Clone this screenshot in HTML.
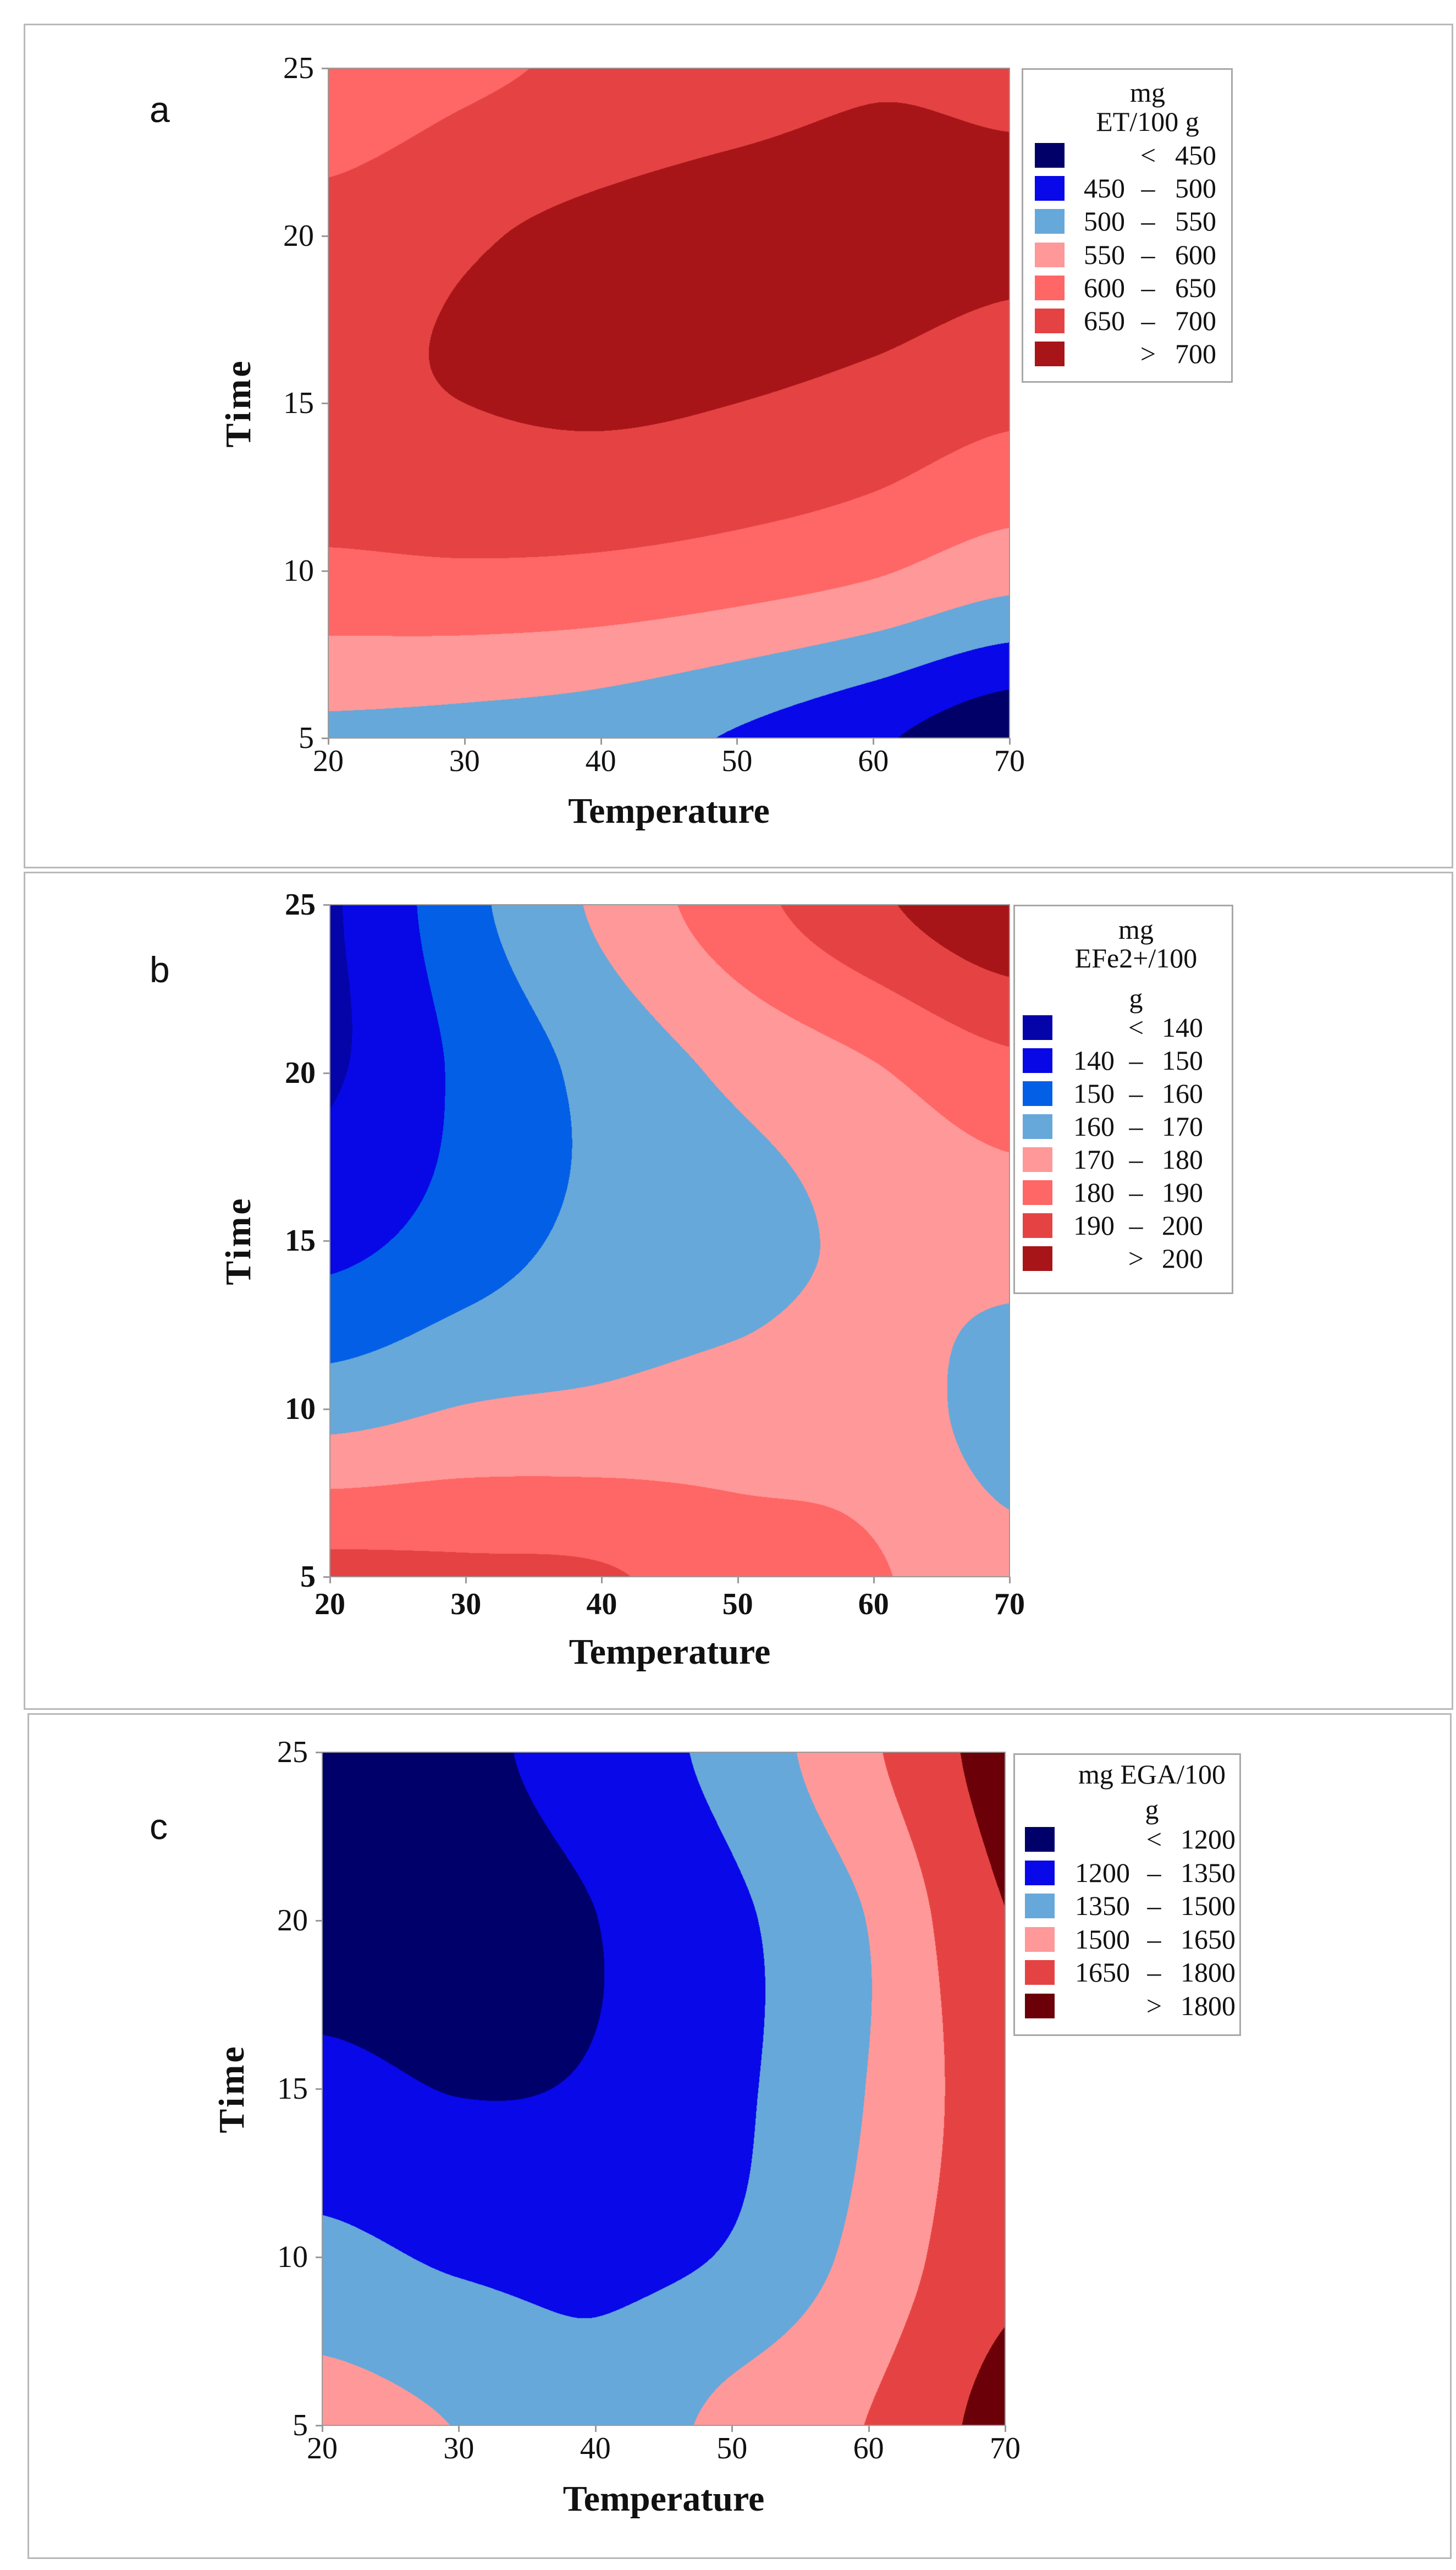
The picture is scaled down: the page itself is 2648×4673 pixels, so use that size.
<!DOCTYPE html>
<html><head><meta charset="utf-8">
<style>
html,body{margin:0;padding:0;background:#fff;}
#root{position:relative;width:2648px;height:4673px;overflow:hidden;background:#fff;font-family:"Liberation Serif",serif;color:#111;}
.frame{position:absolute;border:3px solid #b9b9b9;box-sizing:border-box;}
.plot{position:absolute;border:2px solid #9a9a9a;box-sizing:border-box;}
canvas{position:absolute;display:block;}
.t{position:absolute;white-space:pre;line-height:1;}
.panel-letter{font-family:"Liberation Sans",sans-serif;font-size:66px;}
.ytl{font-size:56px;transform:translate(-100%,-50%);}
.xtl{font-size:56px;transform:translate(-50%,-50%);}
.bold{font-weight:bold;}
.xt{font-size:66px;font-weight:bold;transform:translate(-50%,-50%);}
.yt{font-size:66px;font-weight:bold;transform:translate(-50%,-50%) rotate(-90deg);letter-spacing:4px;}
.legend{position:absolute;border:3px solid #a8a8a8;box-sizing:border-box;background:#fff;}
.lg{font-size:50px;}
.tick{position:absolute;background:#9a9a9a;}
</style></head>
<body>
<div id="root">
  <div class="frame" style="left:43px;top:43px;width:2600px;height:1536px"></div>
  <div class="frame" style="left:43px;top:1585px;width:2600px;height:1524px"></div>
  <div class="frame" style="left:50px;top:3115px;width:2590px;height:1538px"></div>

  <div class="t panel-letter" style="left:272px;top:166px">a</div>
  <div class="t panel-letter" style="left:272px;top:1730px">b</div>
  <div class="t panel-letter" style="left:272px;top:3288px">c</div>
</div>
<script>
// ---------- shared grid axes ----------
var gridTemps = [20, 30, 40, 50, 60, 70];
var gridTimes = [5, 10, 15, 20, 25];
var xTickLabels = ["20", "30", "40", "50", "60", "70"];
var yTickLabels = ["5", "10", "15", "20", "25"];

// ---------- panel a: mg ET/100 g (rows = time 5..25, cols = temp 20..70) ----------
var gridA = [
  [539, 533, 522, 495, 458, 414],
  [640, 644, 640, 627, 606, 571],
  [688, 700, 707, 700, 685, 662],
  [668, 694, 712, 722, 722, 712],
  [615, 640, 660, 678, 695, 690]
];
var levelsA = [450, 500, 550, 600, 650, 700];
var colorsA = ["#000068", "#0808e8", "#66a8da", "#ff9898", "#ff6666", "#e54343", "#a81518"];
var legendLabelsA = [["", "<", "450"], ["450", "–", "500"], ["500", "–", "550"], ["550", "–", "600"], ["600", "–", "650"], ["650", "–", "700"], ["", ">", "700"]];

// ---------- panel b: mg EFe2+/100 g ----------
var gridB = [
  [193, 192, 191, 185, 181, 173],
  [166, 170.5, 172, 174, 175, 166],
  [147, 155, 163, 166.5, 172, 174],
  [139, 152, 163, 172, 179, 187],
  [139, 157, 172, 186, 198, 208]
];
var levelsB = [140, 150, 160, 170, 180, 190, 200];
var colorsB = ["#0404a8", "#0808e6", "#035fe6", "#66a8da", "#ff9898", "#ff6666", "#e54343", "#a81518"];
var legendLabelsB = [["", "<", "140"], ["140", "–", "150"], ["150", "–", "160"], ["160", "–", "170"], ["170", "–", "180"], ["180", "–", "190"], ["190", "–", "200"], ["", ">", "200"]];

// ---------- panel c: mg EGA/100 g ----------
var gridC = [
  [1560, 1495, 1400, 1545, 1655, 1850],
  [1390, 1330, 1315, 1365, 1550, 1765],
  [1240, 1195, 1215, 1320, 1505, 1740],
  [1140, 1140, 1198, 1320, 1505, 1795],
  [1160, 1170, 1265, 1400, 1625, 1860]
];
var levelsC = [1200, 1350, 1500, 1650, 1800];
var colorsC = ["#00006b", "#0808e8", "#66a8da", "#ff9898", "#e54343", "#6b0008"];
var legendLabelsC = [["", "<", "1200"], ["1200", "–", "1350"], ["1350", "–", "1500"], ["1500", "–", "1650"], ["1650", "–", "1800"], ["", ">", "1800"]];

var root = document.getElementById('root');

function hex(c){return [parseInt(c.substr(1,2),16),parseInt(c.substr(3,2),16),parseInt(c.substr(5,2),16)];}
function cr(p0,p1,p2,p3,u){return 0.5*((2*p1)+(-p0+p2)*u+(2*p0-5*p1+4*p2-p3)*u*u+(-p0+3*p1-3*p2+p3)*u*u*u);}
function rowAt(row,fx){
  var n=row.length, i=Math.floor(fx); if(i<0)i=0; if(i>n-2)i=n-2; var u=fx-i;
  var g=function(k){k=Math.max(0,Math.min(n-1,k));return row[k];};
  return cr(g(i-1),g(i),g(i+1),g(i+2),u);
}
function valueAt(grid,T,t){
  var fx=(T-gridTemps[0])/(gridTemps[1]-gridTemps[0]);
  var fy=(t-gridTimes[0])/(gridTimes[1]-gridTimes[0]);
  var m=grid.length, j=Math.floor(fy); if(j<0)j=0; if(j>m-2)j=m-2; var v=fy-j;
  var c=function(k){k=Math.max(0,Math.min(m-1,k));return rowAt(grid[k],fx);};
  return cr(c(j-1),c(j),c(j+1),c(j+2),v);
}
function addText(txt,cls,x,y,name,extra){
  var d=document.createElement('div');
  d.className='t '+cls; d.textContent=txt;
  d.style.left=x+'px'; d.style.top=y+'px';
  if(extra) d.style.cssText+=extra;
  
  
  root.appendChild(d);
  return d;
}

function makePanel(cfg){
  var L=cfg.left,Tp=cfg.top,W=cfg.width,H=cfg.height;
  var xS=function(T){return L+(T-20)/50*W;};
  var yS=function(t){return Tp+H-(t-5)/20*H;};
  var cv=document.createElement('canvas');
  cv.width=W; cv.height=H; cv.style.left=L+'px'; cv.style.top=Tp+'px';
  
  
  root.appendChild(cv);
  var ctx=cv.getContext('2d'); var img=ctx.createImageData(W,H); var d=img.data;
  var cols=cfg.colors.map(hex);
  for(var py=0;py<H;py++){
    var t=25-(py+0.5)/H*20;
    for(var px=0;px<W;px++){
      var T=20+(px+0.5)/W*50;
      var z=valueAt(cfg.grid,T,t);
      var k=0; while(k<cfg.levels.length && z>=cfg.levels[k]) k++;
      var c=cols[k]; var o=(py*W+px)*4;
      d[o]=c[0];d[o+1]=c[1];d[o+2]=c[2];d[o+3]=255;
    }
  }
  ctx.putImageData(img,0,0);
  var b=document.createElement('div'); b.className='plot';
  b.style.cssText='left:'+(L-1)+'px;top:'+(Tp-1)+'px;width:'+(W+2)+'px;height:'+(H+2)+'px;';
  
  
  root.appendChild(b);
  var bcls = cfg.boldTicks ? ' bold' : '';
  for(var i=0;i<gridTemps.length;i++){
    var x=xS(gridTemps[i]);
    var tk=document.createElement('div'); tk.className='tick';
    tk.style.cssText='left:'+(x-1)+'px;top:'+(Tp+H)+'px;width:3px;height:12px;';
    
    
    root.appendChild(tk);
    addText(xTickLabels[i],'xtl'+bcls,x,cfg.xLabelY,cfg.id+'-x-tick-label');
  }
  for(var j=0;j<gridTimes.length;j++){
    var y=yS(gridTimes[j]);
    var tk2=document.createElement('div'); tk2.className='tick';
    tk2.style.cssText='left:'+(L-12)+'px;top:'+(y-1)+'px;width:12px;height:3px;';
    
    
    root.appendChild(tk2);
    addText(yTickLabels[j],'ytl'+bcls,L-26,y,cfg.id+'-y-tick-label');
  }
  addText('Temperature','xt',L+W/2,cfg.xTitleY,cfg.id+'-x-axis-title');
  addText('Time','yt',cfg.yTitleX,Tp+H/2,cfg.id+'-y-axis-title');
  var lg=document.createElement('div'); lg.className='legend';
  lg.style.cssText='left:'+cfg.lg.left+'px;top:'+cfg.lg.top+'px;width:'+cfg.lg.width+'px;height:'+cfg.lg.height+'px;';
  
  
  root.appendChild(lg);
  for(var q=0;q<cfg.lg.title.length;q++){
    addText(cfg.lg.title[q][0],'lg',cfg.lg.titleX,cfg.lg.title[q][1],cfg.id+'-legend-title','transform:translate(-50%,-50%);');
  }
  for(var r=0;r<cfg.legendLabels.length;r++){
    var ry=cfg.lg.row0+r*cfg.lg.rowStep;
    var sw=document.createElement('div');
    sw.style.cssText='position:absolute;left:'+cfg.lg.swX+'px;top:'+(ry-22)+'px;width:54px;height:45px;background:'+cfg.colors[r]+';';
    
    
    root.appendChild(sw);
    var lab=cfg.legendLabels[r];
    if(lab[0]) addText(lab[0],'lg',cfg.lg.n1R,ry,cfg.id+'-legend-label','transform:translate(-100%,-50%);');
    addText(lab[1],'lg',cfg.lg.symX,ry,cfg.id+'-legend-label','transform:translate(-50%,-50%);');
    addText(lab[2],'lg',cfg.lg.n2R,ry,cfg.id+'-legend-label','transform:translate(-100%,-50%);');
  }
}

makePanel({id:'panel-a',left:597,top:124,width:1239,height:1218,grid:gridA,levels:levelsA,colors:colorsA,legendLabels:legendLabelsA,
  xLabelY:1384,xTitleY:1475,yTitleX:434,boldTicks:false,
  lg:{left:1858,top:124,width:384,height:572,titleX:2087,title:[['mg',168],['ET/100 g',221]],row0:282,rowStep:60.2,swX:1882,n1R:2046,symX:2088,n2R:2212}});
makePanel({id:'panel-b',left:600,top:1645,width:1236,height:1222,grid:gridB,levels:levelsB,colors:colorsB,legendLabels:legendLabelsB,
  xLabelY:2917,xTitleY:3004,yTitleX:434,boldTicks:true,
  lg:{left:1843,top:1645,width:400,height:708,titleX:2066,title:[['mg',1690],['EFe2+/100',1742],['g',1815]],row0:1868,rowStep:60,swX:1860,n1R:2027,symX:2066,n2R:2188}});
makePanel({id:'panel-c',left:586,top:3186,width:1242,height:1224,grid:gridC,levels:levelsC,colors:colorsC,legendLabels:legendLabelsC,
  xLabelY:4452,xTitleY:4544,yTitleX:422,boldTicks:false,
  lg:{left:1843,top:3188,width:414,height:514,titleX:2095,title:[['mg EGA/100',3226],['g',3290]],row0:3344,rowStep:60.5,swX:1864,n1R:2055,symX:2099,n2R:2247}});
</script>
</body></html>
